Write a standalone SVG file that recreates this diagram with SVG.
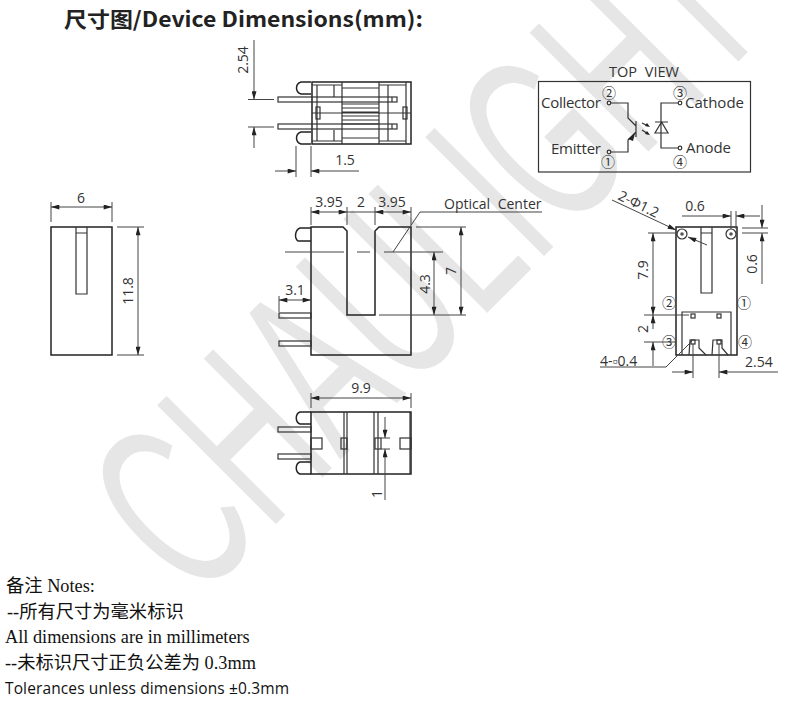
<svg xmlns="http://www.w3.org/2000/svg" width="797" height="704" viewBox="0 0 797 704">
<style>
text{font-family:"Open Sans","Noto Sans",sans-serif;fill:#333;font-size:14px}
.m{text-anchor:middle}
.l{fill:none;stroke:#333;stroke-width:1.2}
.b{fill:none;stroke:#222;stroke-width:1.5}
.d{fill:none;stroke:#444;stroke-width:1}
.n{font-family:"Liberation Serif","Noto Sans CJK SC",serif;font-size:18.300px;fill:#111}
.c{font-family:"Noto Sans CJK SC",sans-serif;font-size:14px;text-anchor:middle;fill:#333}
.wm{font-family:"Liberation Sans",sans-serif;font-size:244px;fill:#e6e6e6}
</style>
<defs>
<marker id="a" viewBox="0 0 10 6" refX="10" refY="3" markerWidth="10" markerHeight="5" markerUnits="userSpaceOnUse" orient="auto-start-reverse"><path d="M0 0L10 3L0 6Z" fill="#222"/></marker>
</defs>
<rect width="797" height="704" fill="#fff"/>
<text id="watermark" class="wm" transform="translate(195.500,604.500) rotate(-45) scale(0.58,1)">CHAULIGHT</text>
<text x="64" y="27" style="font-family:'Noto Sans CJK SC',sans-serif;font-size:21px;font-weight:700;fill:#222" textLength="359" lengthAdjust="spacingAndGlyphs">尺寸图/Device Dimensions(mm):</text>

<g id="view-top">
<path class="b" d="M311 94H301C295 92 295 84 301 82H311"/>
<path class="b" d="M311 132H301C295 134 295 142 301 144H311"/>
<rect class="b" x="312" y="82" width="99" height="62"/>
<path class="l" d="M317 85V141M342 82V144M379 82V144M388 85V141M406 82V144M334 85V97M334 130V141M388 85V97M388 130V141M312 85H342M379 85H406M312 141H342M379 141H406M342 88H379M342 138H379M342 104H379M342 108H379M342 112H379M342 116H379M342 120H379M342 124H379M312 113H411"/>
<rect class="l" x="278" y="97" width="119" height="5"/>
<rect class="l" x="278" y="124" width="119" height="5"/>
<path class="l" d="M392 97V102M392 124V129"/>
<rect class="l" x="316" y="107" width="4" height="12"/>
<rect class="l" x="403" y="107" width="4" height="12"/>
</g>
<g id="schematic">
<rect x="538.500" y="81.500" width="212" height="90.500" fill="none" stroke="#333" stroke-width="1.200"/>
<text x="644" y="77" class="m" style="word-spacing:4px;font-size:14.500px">TOP VIEW</text>
<text x="541" y="108" style="font-size:15px" textLength="60">Collector</text>
<text x="551" y="154" style="font-size:15px" textLength="50">Emitter</text>
<text x="685" y="108" style="font-size:15px" textLength="59">Cathode</text>
<text x="686" y="153" style="font-size:15px" textLength="45">Anode</text>
<text x="609" y="98" class="c">②</text>
<text x="680" y="98" class="c">③</text>
<text x="608" y="167" class="c">①</text>
<text x="680" y="167" class="c">④</text>
<path class="l" d="M611 103H628V118L636 126M636 132L628 140V152H611M678 103H661V148H678M636 121V137M655 122H668M661.500 122L655 133H668Z"/>
<path d="M628 139L635 133L633 141Z" fill="#222"/>
<path class="l" d="M642 123L648 126M642 130L648 134"/>
<path d="M650 127L645 126L647 123ZM650 135L645 134L647 131Z" fill="#222"/>
<circle class="l" cx="609" cy="103" r="1.800" fill="#fff"/>
<circle class="l" cx="609" cy="152" r="1.800" fill="#fff"/>
<circle class="l" cx="680" cy="103" r="1.800" fill="#fff"/>
<circle class="l" cx="680" cy="148" r="1.800" fill="#fff"/>
</g>
<g id="view-left">
<rect class="b" x="51" y="227" width="61" height="128"/>
<path class="l" d="M76 227V294H87V227M76 233H87"/>
</g>
<g id="view-mid">
<path class="b" d="M311 228H300C295 230 294 238 298 241H311"/>
<path class="b" d="M311 227H343L347 231V315H375V231L379 227H411V355H311Z"/>
<rect class="l" x="279" y="313" width="32" height="5"/>
<rect class="l" x="279" y="341" width="32" height="5"/>
</g>
<g id="view-right">
<rect class="b" x="676" y="227" width="61" height="128"/>
<path class="l" d="M701 227V293H712V227M701 233H712"/>
<circle class="l" cx="682" cy="234" r="5"/><circle cx="682" cy="234" r="1.800" fill="#555"/>
<circle class="l" cx="731" cy="234" r="5"/><circle cx="731" cy="234" r="1.800" fill="#555"/>
<path class="l" d="M682 355V312H731V355"/>
<rect class="l" x="691" y="314" width="4" height="4"/>
<rect class="l" x="717" y="314" width="4" height="4"/>
<path class="l" d="M689 355L690 340H699V348L706 355M712 355L713 340H722V348L728 355"/>
<rect class="l" x="691" y="340" width="4" height="4"/>
<rect class="l" x="717" y="340" width="4" height="4"/>
<text x="669" y="308" class="c">②</text>
<text x="744" y="308" class="c">①</text>
<text x="669" y="347" class="c">③</text>
<text x="745" y="347" class="c">④</text>
</g>
<g id="view-bottom">
<path class="b" d="M311 424H300C295 422 295 414 300 412H311"/>
<path class="b" d="M311 462H300C295 464 295 472 300 474H311"/>
<rect class="b" x="311" y="412" width="100" height="62"/>
<path class="l" d="M344 412V474M347 412V474M374 412V474M378 412V474M410 412V474"/>
<rect class="l" x="278" y="427" width="33" height="5"/>
<rect class="l" x="278" y="454" width="33" height="5"/>
<rect class="l" x="311" y="438" width="11" height="11"/>
<rect class="l" x="341" y="438" width="6" height="11" fill="#fff"/>
<rect class="l" x="375" y="438" width="6" height="11" fill="#fff"/>
<rect class="l" x="400" y="438" width="11" height="11"/>
</g>
<g id="connectors">
<path class="d" d="M254 40V99.500" marker-end="url(#a)"/><path class="d" d="M254 148V127" marker-end="url(#a)"/>
<path class="d" d="M248 99.500H274M248 127H274"/>
<path class="d" d="M296 146V177M311 146V177"/><path class="d" d="M275 171H296" marker-end="url(#a)"/><path class="d" d="M359 171H311" marker-end="url(#a)"/>
<path class="d" d="M51 202V222M112 202V222"/><path class="d" d="M81 207H51" marker-end="url(#a)"/><path class="d" d="M81 207H112" marker-end="url(#a)"/>
<path class="d" d="M117 227H144M117 355H144"/><path class="d" d="M138 290V227" marker-end="url(#a)"/><path class="d" d="M138 290V355" marker-end="url(#a)"/>
<path class="d" d="M311 207V225M347 207V225M375 207V225M411 207V225"/>
<path class="d" d="M329 212H311" marker-end="url(#a)"/><path class="d" d="M329 212H347" marker-end="url(#a)"/>
<path class="d" d="M347 212H375"/>
<path class="d" d="M393 212H375" marker-end="url(#a)"/><path class="d" d="M393 212H411" marker-end="url(#a)"/>
<path class="d" d="M285 252H344M357 252H370M384 252H443"/>
<path class="d" d="M393 252L420 212H542"/>
<path class="d" d="M416 227H466M379 315H466" stroke-width="1.200"/>
<path class="d" d="M461 270V227" marker-end="url(#a)"/><path class="d" d="M461 270V315" marker-end="url(#a)"/>
<path class="d" d="M434 285V252" marker-end="url(#a)"/><path class="d" d="M434 285V315" marker-end="url(#a)"/>
<path class="d" d="M279 296V312"/>
<path class="d" d="M295 300H279" marker-end="url(#a)"/><path class="d" d="M295 300H311" marker-end="url(#a)"/>
<path class="d" d="M311 393V408M411 393V408"/>
<path class="d" d="M361 398H311" marker-end="url(#a)"/><path class="d" d="M361 398H411" marker-end="url(#a)"/>
<path class="d" d="M385 417V438" marker-end="url(#a)"/><path class="d" d="M385 500V449" marker-end="url(#a)"/>
<path class="d" d="M381 438H390M381 449H390"/>
<path class="d" d="M612 200L676 230" marker-end="url(#a)"/><path class="d" d="M707 245L688 237" marker-end="url(#a)"/>
<path class="d" d="M682 216H731" marker-end="url(#a)"/><path class="d" d="M760 216H736" marker-end="url(#a)"/>
<path class="d" d="M731 211V229M736 211V229"/>
<path class="d" d="M762 205V228" marker-end="url(#a)"/><path class="d" d="M762 284V233" marker-end="url(#a)"/>
<path class="d" d="M742 228H768M742 233H768"/>
<path class="d" d="M648 233H676M644 315H689M644 342H676"/>
<path class="d" d="M653 280V233" marker-end="url(#a)"/><path class="d" d="M653 280V315" marker-end="url(#a)"/>
<path class="d" d="M653 329V315" marker-end="url(#a)"/>
<path class="d" d="M653 366V342" marker-end="url(#a)"/>
<path class="d" d="M600 367H666L692 341"/>
<path class="d" d="M693 344V378M719 344V378"/>
<path class="d" d="M672 372H693" marker-end="url(#a)"/><path class="d" d="M778 372H719" marker-end="url(#a)"/>
</g>
<g id="labels">
<text transform="translate(248,60) rotate(-90)" class="m">2.54</text>
<text x="345" y="165" class="m">1.5</text>
<text x="81" y="203" class="m">6</text>
<text transform="translate(133,291) rotate(-90)" class="m">11.8</text>
<text x="329" y="207" class="m">3.95</text>
<text x="361" y="207" class="m">2</text>
<text x="392" y="207" class="m">3.95</text>
<text x="444" y="209" style="word-spacing:4px">Optical Center</text>
<text transform="translate(430,284) rotate(-90)" class="m">4.3</text>
<text transform="translate(456,271) rotate(-90)" class="m">7</text>
<text x="295" y="295" class="m">3.1</text>
<text x="361" y="393" class="m">9.9</text>
<text transform="translate(382,494) rotate(-90)" class="m">1</text>
<text transform="translate(617,199) rotate(26)">2-Φ1.2</text>
<text x="695" y="211" class="m">0.6</text>
<text transform="translate(757,264) rotate(-90)" class="m">0.6</text>
<text transform="translate(648,270) rotate(-90)" class="m">7.9</text>
<text transform="translate(648,329) rotate(-90)" class="m">2</text>
<text x="600" y="366">4-▫0.4</text>
<text x="745" y="367">2.54</text>
</g>
<g id="notes">
<text class="n" x="6" y="592">备注 Notes:</text>
<text class="n" x="7" y="618">--所有尺寸为毫米标识</text>
<text class="n" x="5" y="643">All dimensions are in millimeters</text>
<text class="n" x="5" y="669">--未标识尺寸正负公差为 0.3mm</text>
<text x="5" y="694" style="font-family:'Open Sans',sans-serif;font-size:15.500px;fill:#111" textLength="284">Tolerances unless dimensions ±0.3mm</text>
</g>
</svg>
